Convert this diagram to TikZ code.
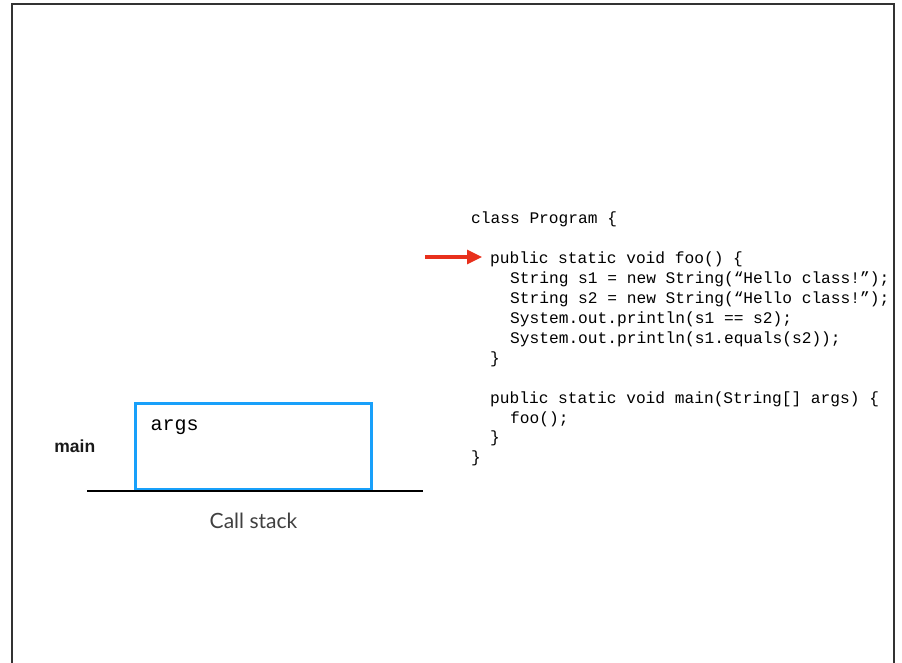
\documentclass[tikz,border=0pt]{standalone}
\usepackage{fontspec}
\setmainfont{Liberation Sans}
\setmonofont{Liberation Mono}
\newfontfamily\stackfont{Lato}
\usepackage{xcolor}
\usetikzlibrary{arrows.meta,positioning}

\definecolor{frameblue}{RGB}{24,160,250}
\definecolor{pointred}{RGB}{232,48,28}

\begin{document}
\begin{tikzpicture}[x=1pt, y=-1pt, >={Triangle[length=15pt,width=14pt]}]
        \tikzset{
                code/.style     = {anchor=base west, inner sep=0pt, font=\ttfamily\fontsize{16.2}{20}\selectfont},
                stackframe/.style = {draw=frameblue, line width=2.6pt, minimum width=236pt,
                                minimum height=86pt, inner sep=0pt},
                framelabel/.style = {inner sep=0pt, font=\bfseries\fontsize{17.5}{20}\selectfont, text=black!90},
                varname/.style  = {anchor=north west, inner sep=0pt, font=\ttfamily\fontsize{20}{24}\selectfont},
                stacklabel/.style = {font=\stackfont\fontsize{21}{25}\selectfont, text=black!75},
                pointer/.style  = {->, pointred, line width=3.2pt}
        }
        \useasboundingbox (0,0) rectangle (902,663);
        % slide frame, open at the bottom
        \draw[line width=1.4pt, black!80] (12,663) -- (12,4) -- (894,4) -- (894,663);

        % the call stack with the frame of main
        \node[stackframe] (mainframe) at (253.7,446.5) {};
        \node[varname] (args) at ([xshift=16pt,yshift=-17pt]mainframe.north west) {args};
        \node[framelabel, left=39pt of mainframe] (mainlabel) {main};
        \coordinate (stackleft) at (87,491);
        \coordinate (stackright) at (423,491);
        \draw[line width=2pt] (stackleft) -- (stackright);
        \node[stacklabel] (stacklabel) at (253.5,520.5) {Call stack};

        % the program
        \node[code] (l1)  at (471,224)   {class Program \{};
        \node[code] (l2)  at (490,263.8) {public static void foo() \{};
        \node[code] (l3)  at (510,283.7) {String s1 = new String(“Hello class!”);};
        \node[code] (l4)  at (510,303.6) {String s2 = new String(“Hello class!”);};
        \node[code] (l5)  at (510,323.5) {System.out.println(s1 == s2);};
        \node[code] (l6)  at (510,343.4) {System.out.println(s1.equals(s2));};
        \node[code] (l7)  at (490,363.3) {\}};
        \node[code] (l8)  at (490,403.1) {public static void main(String[] args) \{};
        \node[code] (l9)  at (510,423)   {foo();};
        \node[code] (l10) at (490,442.9) {\}};
        \node[code] (l11) at (471,462.8) {\}};

        % current line
        \coordinate (pointstart) at (425,257);
        \draw[pointer, shorten >=8pt] (pointstart) -- (l2.west |- pointstart);
\end{tikzpicture}
\end{document}
